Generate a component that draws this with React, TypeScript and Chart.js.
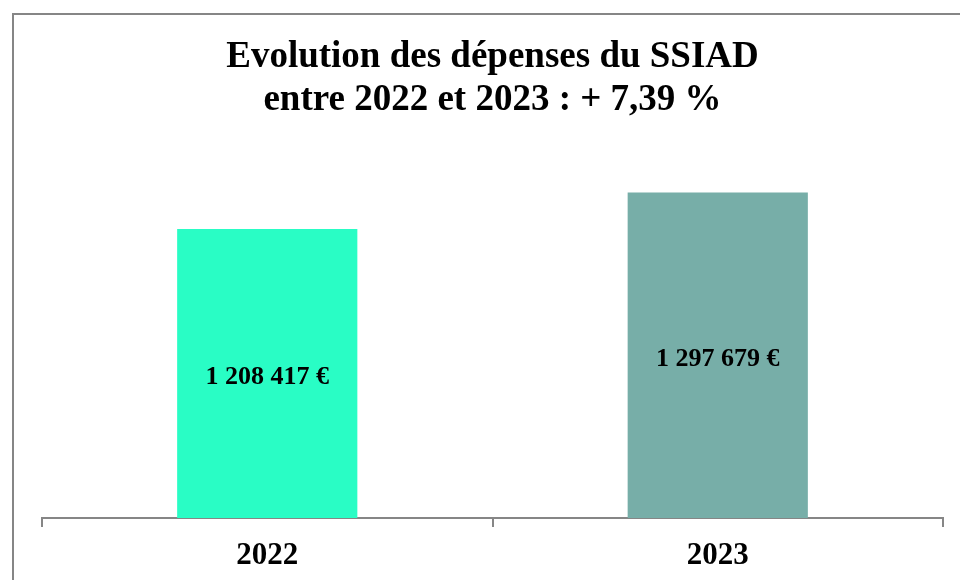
import React, { useEffect, useRef } from "react";
import { Chart, registerables } from "chart.js";

Chart.register(...registerables);

const categories = ["2022", "2023"];
const values = [1208417, 1297679];
const valueLabels = ["1 208 417 €", "1 297 679 €"];
const barColors = ["#29FDC5", "#77AEA8"];
const titleLines = ["Evolution des dépenses du SSIAD", "entre 2022 et 2023 : + 7,39 %"];

const SERIF = "'Liberation Serif', 'Times New Roman', serif";

const framePlugin = {
  id: "frame",
  beforeDraw(chart: any) {
    const ctx = chart.ctx;
    ctx.save();
    ctx.fillStyle = "#ffffff";
    ctx.fillRect(0, 0, chart.width, chart.height);
    ctx.strokeStyle = "#868686";
    ctx.lineWidth = 2;
    ctx.beginPath();
    ctx.moveTo(13, chart.height + 5);
    ctx.lineTo(13, 14);
    ctx.lineTo(chart.width + 5, 14);
    ctx.stroke();
    ctx.restore();
  },
};

const valueLabelPlugin = {
  id: "valueLabels",
  afterDatasetsDraw(chart: any) {
    const ctx = chart.ctx;
    const meta = chart.getDatasetMeta(0);
    const bottom = chart.chartArea.bottom;
    ctx.save();
    ctx.font = `bold 26px ${SERIF}`;
    ctx.fillStyle = "#000000";
    ctx.textAlign = "center";
    ctx.textBaseline = "middle";
    meta.data.forEach((bar: any, i: number) => {
      const y = (bar.y + bottom) / 2;
      ctx.fillText(valueLabels[i], bar.x, y + 4);
    });
    ctx.restore();
  },
};

export default function App() {
  const ref = useRef<HTMLCanvasElement | null>(null);
  useEffect(() => {
    document.body.style.margin = "0";
    const chart = new Chart(ref.current as HTMLCanvasElement, {
      type: "bar",
      data: {
        labels: categories,
        datasets: [
          {
            data: values,
            backgroundColor: barColors,
            borderWidth: 0,
            barPercentage: 0.4,
            categoryPercentage: 1,
          },
        ],
      },
      options: {
        animation: false,
        responsive: false,
        maintainAspectRatio: false,
        layout: { padding: { left: 42, right: 17, top: 0, bottom: 0 } },
        plugins: {
          legend: { display: false },
          tooltip: { enabled: false },
          title: {
            display: true,
            text: titleLines,
            color: "#000000",
            font: { family: SERIF, size: 37, weight: "bold", lineHeight: 1.16 },
            padding: { top: 36, bottom: 29 },
          },
        },
        scales: {
          x: {
            afterFit: (scale: any) => {
              scale.height = 62;
            },
            grid: {
              display: true,
              drawOnChartArea: false,
              drawTicks: true,
              tickLength: 9,
              color: "#868686",
              lineWidth: 2,
              offset: true,
            },
            border: { display: true, color: "#868686", width: 2 },
            ticks: {
              color: "#000000",
              font: { family: SERIF, size: 31, weight: "bold", lineHeight: 1.1 },
              padding: 12,
            },
          },
          y: {
            display: false,
            min: 500000,
            max: 1400000,
          },
        },
      },
      plugins: [framePlugin, valueLabelPlugin],
    });
    return () => chart.destroy();
  }, []);
  return <canvas ref={ref} width={960} height={580} style={{ display: "block" }} />;
}
